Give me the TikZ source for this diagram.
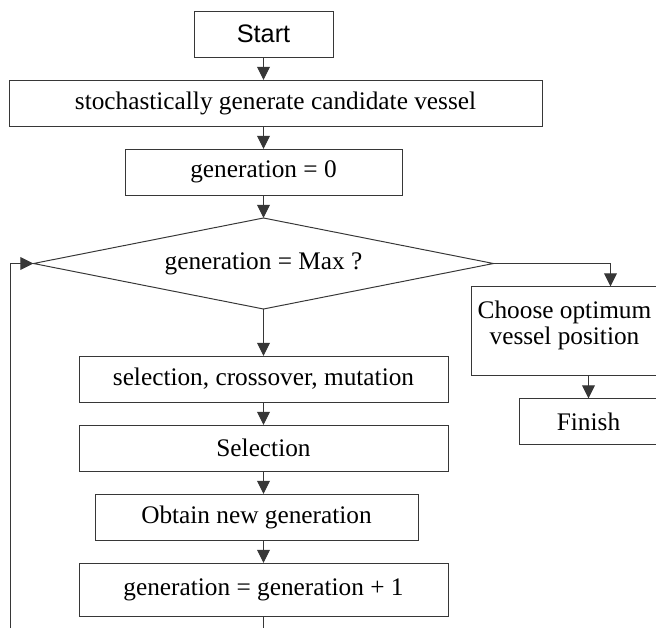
\documentclass[tikz,border=0pt]{standalone}
\usepackage{fontspec}
\setmainfont{Liberation Serif}
\newfontfamily\startfont{Liberation Sans}
\usepackage{tikz}
\usetikzlibrary{shapes.geometric, arrows.meta, positioning}
\definecolor{lineColor}{RGB}{55, 55, 55}

\begin{document}
\begin{tikzpicture}[
    node distance=0.575cm,
    box/.style={rectangle, draw=lineColor, line width=0.7pt, inner sep=0pt, outer sep=0pt, minimum width=9.225cm, minimum height=1.15cm, align=center, font=\fontsize{18}{18.5}\selectfont},
    decision/.style={diamond, draw=lineColor, line width=0.7pt, inner sep=0pt, outer sep=0pt, aspect=5, minimum width=11.5cm, minimum height=2.275cm, font=\fontsize{18}{18.5}\selectfont},
    arrow/.style={-{Triangle[length=3.3mm, width=3.2mm]}, draw=lineColor, line width=0.7pt},
    line/.style={draw=lineColor, line width=0.7pt}
]
    \useasboundingbox (0,0) rectangle (16.4,-15.7);

    % Main column
    \node[box, minimum width=3.475cm, font=\startfont\fontsize{18}{18.5}\selectfont] (start) at (6.5875,-0.85) {Start};
    \node[box, minimum width=13.325cm, below=of start, xshift=0.3cm] (stoch) {stochastically generate candidate vessel};
    \node[box, minimum width=6.925cm, below=of stoch, xshift=-0.3cm] (gen0) {generation = 0};
    \node[decision, below=of gen0] (dec) {generation = Max ?};
    \node[box, below=1.175cm of dec] (sel) {selection, crossover, mutation};
    \node[box, below=of sel] (selection) {Selection};
    \node[box, minimum width=8.075cm, below=of selection, xshift=-0.175cm] (obtain) {Obtain new generation};
    \node[box, minimum height=1.325cm, below=of obtain, xshift=0.175cm] (incr) {generation = generation + 1};

    % Exit branch
    \node[box, minimum width=4.65cm, minimum height=2.225cm, below=0.575cm of dec.east, xshift=1.775cm] (choose) {Choose optimum\\vessel position\\[-0.25cm]};
    \node[box, minimum width=3.45cm, below=of choose, xshift=0.6cm] (finish) {Finish};

    % Loop ends
    \coordinate (loopbot) at (0.25,-15.7);

    % Arrows
    \draw[arrow] (start) -- (start |- stoch.north);
    \draw[arrow] (gen0 |- stoch.south) -- (gen0);
    \draw[arrow] (gen0) -- (dec);
    \draw[arrow] (dec) -- (sel);
    \draw[arrow] (sel) -- (selection);
    \draw[arrow] (selection) -- (selection |- obtain.north);
    \draw[arrow] (selection |- obtain.south) -- (incr);
    \draw[line] (incr) -- (incr |- loopbot);
    \draw[arrow] (loopbot) |- (dec.west);
    \draw[arrow] (dec.east) -| ([xshift=1.15cm]choose.north);
    \draw[arrow] (choose.south -| finish) -- (finish);

\end{tikzpicture}
\end{document}
